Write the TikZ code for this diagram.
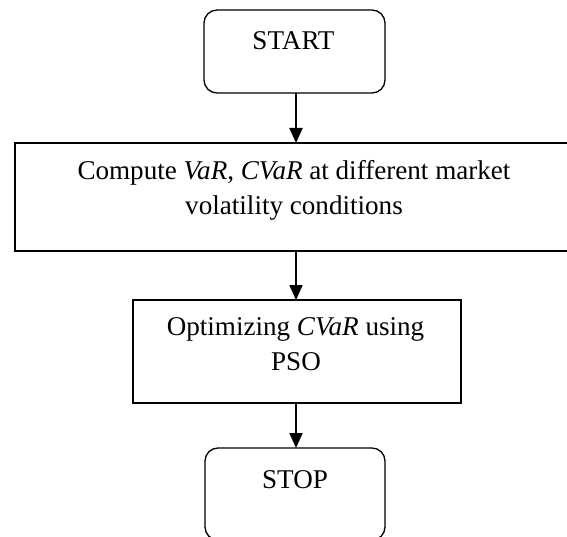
\documentclass[tikz,border=0pt]{standalone}
\usepackage{fontspec}
\setmainfont{Liberation Serif}
\usetikzlibrary{arrows.meta}
\begin{document}
\begin{tikzpicture}[x=1pt,y=-1pt,
  boxline/.style={draw=black,line width=1.3pt,inner sep=0pt,outer sep=0pt},
  term/.style={boxline,rounded corners=13pt},
  proc/.style={boxline},
  txt/.style={anchor=base,inner sep=0pt,font=\fontsize{27.1pt}{35pt}\selectfont},
  arr/.style={line width=2pt,-{Triangle[length=15pt,width=13pt]}}]
\useasboundingbox (0,0) rectangle (567,537);
\clip (0,0) rectangle (567,537);
\node[term,minimum width=181pt,minimum height=83pt] (start) at (294.5,51.5) {};
\node[proc,minimum width=557pt,minimum height=108pt] (comp) at (293.5,197) {};
\node[proc,minimum width=328pt,minimum height=103pt] (opt) at (297,351.5) {};
\node[term,minimum width=180pt,minimum height=92pt] (stop) at (295,494) {};
\node[txt] (t1) at (293.5,50) {START};
\node[txt] (t2) at (294,180) {Compute \textit{VaR}, \textit{CVaR} at different market};
\node[txt] (t3) at (294,215) {volatility conditions};
\node[txt] (t4) at (295.5,335) {Optimizing \textit{CVaR} using};
\node[txt] (t5) at (296,370) {PSO};
\node[txt] (t6) at (295,488) {STOP};
\coordinate (ax) at (296,0);
\draw[arr] (start.south -| ax) -- (comp.north -| ax);
\draw[arr] (comp.south -| ax) -- (opt.north -| ax);
\draw[arr] (opt.south -| ax) -- (stop.north -| ax);
\end{tikzpicture}
\end{document}
